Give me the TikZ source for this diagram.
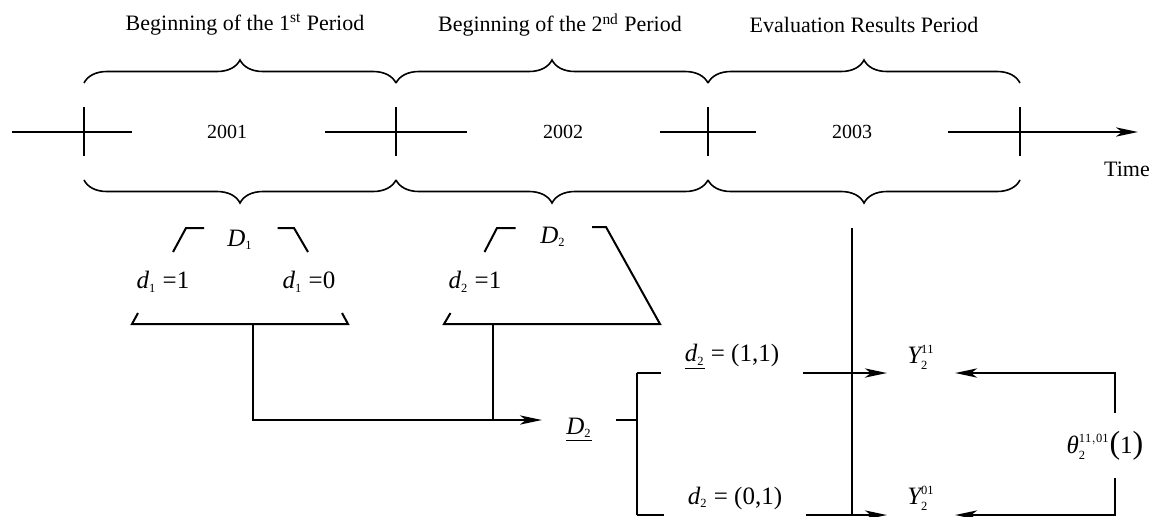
\documentclass[tikz,border=0pt]{standalone}
\usepackage{fontspec}
\setmainfont{Liberation Serif}
\usepackage{tikz}
\usetikzlibrary{arrows.meta,positioning,calc,decorations.pathreplacing}

\newcommand{\vsub}[2]{$\hbox{\itshape #1}_{\scriptscriptstyle\mathrm{#2}}$}
\newcommand{\vsup}[3]{$\hbox{\itshape #1}_{\scriptscriptstyle\mathrm{#2}}^{\scriptscriptstyle\mathrm{#3}}$}
\newcommand{\bigpar}[1]{{\fontsize{16}{16}\selectfont(}#1{\fontsize{16}{16}\selectfont)}}

\begin{document}
\begin{tikzpicture}[
    x=0.5pt, y=-0.5pt,
    ln/.style={line width=1pt},
    brc/.style={line width=0.8pt, decorate, decoration={brace, amplitude=11.5pt}},
    arr/.style={-{Stealth[length=11pt, width=4.6pt, inset=3pt]}, line width=1pt},
    ttl/.style={font=\fontsize{11}{13}\selectfont, inner sep=0pt},
    yr/.style={font=\fontsize{10}{12}\selectfont, inner sep=0pt},
    eq/.style={font=\fontsize{12.5}{14}\selectfont, inner sep=0pt},
    gap/.style={eq, inner xsep=11.5pt}
]
    \useasboundingbox (0,0) rectangle (1150,516);

    \node [ttl] (t1) at (245,25) {Beginning of the 1\textsuperscript{st} Period};
    \node [ttl] (t2) at (560,25) {Beginning of the 2\textsuperscript{nd} Period};
    \node [ttl] (t3) at (864,25) {Evaluation Results Period};

    \foreach \a/\b in {84/396,396/708,708/1020} {
        \draw [brc] (\a,83) -- (\b,83);
        \draw [brc] (\b,180) -- (\a,180);
    }
    \foreach \x in {84,396,708,1020}
        \draw [ln] (\x,107) -- (\x,156);
    \draw [ln] (12,132) -- (132,132);
    \draw [ln] (325,132) -- (467,132);
    \draw [ln] (660,132) -- (756,132);
    \draw [arr] (948,132) -- (1138,132);

    \node [yr] (y1) at (227,132) {2001};
    \node [yr] (y2) at (563,132) {2002};
    \node [yr] (y3) at (852,132) {2003};
    \node [ttl] (tm) at (1127,169) {Time};

    \node [eq] (D1) at (240,240) {\vsub{D}{1}};
    \node [eq] (da) at (163,282) {\vsub{d}{1} =1};
    \node [eq] (db) at (309,282) {\vsub{d}{1} =0};
    \node [eq] (D2) at (553,237) {\vsub{D}{2}};
    \node [eq] (dc) at (475,282) {\vsub{d}{2} =1};

    \draw [ln] (173,252) -- (186,228) -- (204,228);
    \draw [ln] (277.5,228) -- (294,228) -- (308,252);
    \draw [ln] (138,313) -- (132,324) -- (348,324) -- (342,313);
    \draw [ln] (484.5,252) -- (497,228) -- (515.5,228);
    \draw [ln] (592,227) -- (606,227) -- (660,324) -- (444,324) -- (450.5,313);

    \coordinate (j1) at (252.5,324);
    \coordinate (j2) at (492.5,324);
    \coordinate (j3) at (492.5,420);
    \node [gap, inner xsep=12pt] (Du) at (579,430) {\underline{\vsub{D}{2}}};
    \draw [arr] (j1) |- ($(Du.west)+(0,-10)$);
    \draw [ln] (j2) -- (j3);

    \coordinate (c11) at (636.5,373);
    \coordinate (c01) at (636.5,515);
    \coordinate (s1) at (636.5,420);
    \draw [ln] ($(Du.east)+(0,-10)$) -- (s1);
    \draw [ln] (c11) -- (c01);

    \node [gap] (e11) at (732,357) {\underline{\vsub{d}{2}} = (1,1)};
    \node [gap] (e01) at (735,498) {\vsub{d}{2} = (0,1)};
    \node [eq, inner xsep=10pt] (Y11) at (921,357) {\vsup{Y}{2}{11}};
    \node [eq, inner xsep=10pt] (Y01) at (921,498) {\vsup{Y}{2}{01}};

    \draw [ln] (c11) -- (c11 -| e11.west);
    \draw [arr] (c11 -| e11.east) -- (c11 -| Y11.west);
    \draw [ln] (c01) -- (c01 -| e01.west);
    \draw [arr] (c01 -| e01.east) -- (c01 -| Y01.west);

    \coordinate (v1) at (851.5,228);
    \coordinate (v2) at (851.5,515);
    \draw [ln] (v1) -- (v2);

    \node [eq] (th) at (1105,446) {\vsup{θ}{2}{11,01}\bigpar{1}};
    \coordinate (q1) at (1114.7,413);
    \coordinate (q2) at (1114.7,478);
    \coordinate (r1) at (1114.7,373);
    \coordinate (r2) at (1114.7,515);
    \draw [arr] (q1) -- (r1) -- (r1 -| Y11.east);
    \draw [arr] (q2) -- (r2) -- (r2 -| Y01.east);
\end{tikzpicture}
\end{document}
